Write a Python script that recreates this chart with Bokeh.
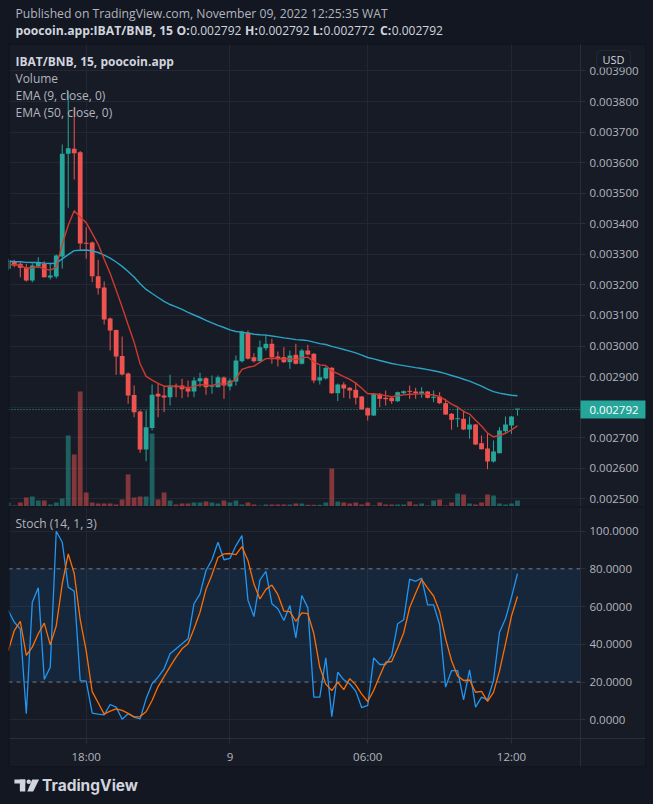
from bokeh.plotting import figure
from bokeh.layouts import column
from bokeh.models import (Range1d, FixedTicker, NumeralTickFormatter, Span, BoxAnnotation,
                          LinearAxis)
from bokeh.core.properties import value
from bokeh.embed import file_html
from bokeh.resources import INLINE

# ---------------- data (15-minute bars, slot 0 = 18:00) ----------------
bars = list(range(-13, 73))
time_ticks = [0, 24, 47, 71]
time_labels = ["18:00", "9", "06:00", "12:00"]
price_ticks = [0.0025, 0.0026, 0.0027, 0.0028, 0.0029, 0.0030, 0.0031, 0.0032,
               0.0033, 0.0034, 0.0035, 0.0036, 0.0037, 0.0038, 0.0039]
stoch_ticks = [0, 20, 40, 60, 80, 100]
last_price = 0.002792

open_ = [0.0032526, 0.0032765, 0.0032690, 0.0032579, 0.0032144, 0.0032602, 0.0032690, 0.0032242, 0.0032274, 0.0032929, 0.0036290, 0.0036453, 0.0036342,
         0.0033364, 0.0033387, 0.0032284, 0.0031915, 0.0030900, 0.0030524, 0.0029673, 0.0029100, 0.0028397, 0.0027857, 0.0026613, 0.0027317, 0.0028436,
         0.0028380, 0.0028325, 0.0028706, 0.0028706, 0.0028619, 0.0028511, 0.0028848, 0.0028947, 0.0028665, 0.0028652, 0.0028969, 0.0028675, 0.0028839,
         0.0029503, 0.0030442, 0.0029634, 0.0029503, 0.0029928, 0.0030072, 0.0029657, 0.0029634, 0.0029470,
         0.0029712, 0.0029418, 0.0029853, 0.0029745, 0.0028871, 0.0028937, 0.0029287, 0.0028456, 0.0028740, 0.0028632, 0.0028567, 0.0028348, 0.0027965,
         0.0027726, 0.0028436, 0.0028305, 0.0028305, 0.0028194, 0.0028456, 0.0028521, 0.0028511, 0.0028456, 0.0028511, 0.0028305, 0.0028348, 0.0028128,
         0.0027782, 0.0027605, 0.0027618, 0.0027268, 0.0027431, 0.0026820, 0.0026646, 0.0026221, 0.0026492, 0.0027212, 0.0027399, 0.0027920]
high = [0.0032863, 0.0032821, 0.0032733, 0.0032690, 0.0032710, 0.0032906, 0.0032775, 0.0032690, 0.0032994, 0.0036594, 0.0038338, 0.0037795, 0.0036381,
        0.0033888, 0.0033420, 0.0032821, 0.0032111, 0.0030933, 0.0030540, 0.0030311, 0.0029133, 0.0028706, 0.0027890, 0.0027890, 0.0028740, 0.0028763,
        0.0028706, 0.0029058, 0.0028773, 0.0028927, 0.0028871, 0.0028979, 0.0029123, 0.0028979, 0.0029035, 0.0029035, 0.0029002, 0.0028937, 0.0029689,
        0.0030507, 0.0030507, 0.0029765, 0.0030180, 0.0030377, 0.0030236, 0.0029820, 0.0029961, 0.0029853,
        0.0030072, 0.0029909, 0.0030040, 0.0029771, 0.0029362, 0.0029329, 0.0029313, 0.0028773, 0.0028816, 0.0028659, 0.0028816, 0.0028364, 0.0027988,
        0.0028462, 0.0028462, 0.0028544, 0.0028331, 0.0028511, 0.0028544, 0.0028706, 0.0028632, 0.0028652, 0.0028528, 0.0028544, 0.0028488, 0.0028272,
        0.0027808, 0.0027998, 0.0027890, 0.0027693, 0.0027448, 0.0027072, 0.0027147, 0.0026908, 0.0027343, 0.0027693, 0.0027709, 0.0027920]
low = [0.0032471, 0.0032579, 0.0032251, 0.0032111, 0.0032088, 0.0032546, 0.0032242, 0.0032176, 0.0032209, 0.0032536, 0.0034523, 0.0035448, 0.0033125,
       0.0032854, 0.0032088, 0.0031685, 0.0030704, 0.0029853, 0.0029058, 0.0029035, 0.0028108, 0.0027670, 0.0026505, 0.0026231, 0.0027235, 0.0027670,
       0.0027834, 0.0028053, 0.0028325, 0.0028292, 0.0028325, 0.0028325, 0.0028652, 0.0028403, 0.0028436, 0.0028642, 0.0028272, 0.0028544, 0.0028706,
       0.0029460, 0.0029558, 0.0029460, 0.0029493, 0.0029853, 0.0029418, 0.0029329, 0.0029444, 0.0029254,
       0.0029395, 0.0029395, 0.0029689, 0.0028783, 0.0028740, 0.0028904, 0.0028430, 0.0028194, 0.0028305, 0.0028272, 0.0028086, 0.0027906, 0.0027562,
       0.0027710, 0.0027998, 0.0028053, 0.0028108, 0.0028168, 0.0028430, 0.0028272, 0.0028272, 0.0028305, 0.0028282, 0.0028161, 0.0028102, 0.0027742,
       0.0027258, 0.0027343, 0.0027251, 0.0026963, 0.0026761, 0.0026613, 0.0025969, 0.0026188, 0.0026483, 0.0027127, 0.0027127, 0.0027720]
close = [0.0032798, 0.0032634, 0.0032559, 0.0032144, 0.0032634, 0.0032723, 0.0032251, 0.0032308, 0.0032962, 0.0036290, 0.0036473, 0.0036310, 0.0033354,
         0.0033345, 0.0032284, 0.0031892, 0.0030867, 0.0030507, 0.0029657, 0.0029068, 0.0028380, 0.0027834, 0.0026613, 0.0027343, 0.0028403, 0.0028348,
         0.0028315, 0.0028706, 0.0028652, 0.0028587, 0.0028511, 0.0028871, 0.0028947, 0.0028652, 0.0028685, 0.0028979, 0.0028706, 0.0028871, 0.0029526,
         0.0030465, 0.0029581, 0.0029503, 0.0029961, 0.0030072, 0.0029634, 0.0029568, 0.0029470, 0.0029689,
         0.0029418, 0.0029853, 0.0029722, 0.0028871, 0.0028979, 0.0029287, 0.0028456, 0.0028740, 0.0028610, 0.0028544, 0.0028305, 0.0027932, 0.0027726,
         0.0028436, 0.0028272, 0.0028259, 0.0028194, 0.0028488, 0.0028521, 0.0028501, 0.0028456, 0.0028511, 0.0028305, 0.0028315, 0.0028128, 0.0027759,
         0.0027585, 0.0027618, 0.0027268, 0.0027431, 0.0026777, 0.0026623, 0.0026221, 0.0026548, 0.0027235, 0.0027431, 0.0027693, 0.0027920]
volume = [4, 1, 4, 9, 10, 6, 6, 2, 4, 8, 71, 52, 115,
          14, 4, 3, 3, 3, 2, 7, 32, 9, 10, 10, 73, 7,
          14, 6, 2, 3, 3, 4, 4, 5, 4, 3, 6, 4, 6,
          2, 4, 2, 1, 2, 2, 2, 2, 2,
          3, 3, 1.7, 1.7, 1.7, 4, 38, 5, 4, 3, 4, 2, 4,
          1, 4, 2, 2, 2, 2, 5, 2, 3, 1, 6, 7, 1,
          4, 13, 12, 3, 2, 4, 12, 11, 3, 2, 3, 6]
ema9 = [0.0032667, 0.0032661, 0.0032641, 0.0032543, 0.0032562, 0.0032595, 0.0032526, 0.0032484, 0.0032579, 0.0033322, 0.0033953, 0.0034424, 0.0034212,
        0.0034038, 0.0033688, 0.0033328, 0.0032837, 0.0032373, 0.0031829, 0.0031276, 0.0030697, 0.0030125, 0.0029421, 0.0029005, 0.0028884, 0.0028776,
        0.0028685, 0.0028688, 0.0028681, 0.0028662, 0.0028632, 0.0028681, 0.0028734, 0.0028717, 0.0028711, 0.0028763, 0.0028754, 0.0028776, 0.0028927,
        0.0029234, 0.0029303, 0.0029342, 0.0029467, 0.0029588, 0.0029598, 0.0029591, 0.0029568, 0.0029591,
        0.0029555, 0.0029614, 0.0029637, 0.0029483, 0.0029382, 0.0029362, 0.0029182, 0.0029094, 0.0028996, 0.0028907, 0.0028786, 0.0028616, 0.0028439,
        0.0028439, 0.0028407, 0.0028377, 0.0028341, 0.0028371, 0.0028400, 0.0028420, 0.0028426, 0.0028443, 0.0028416, 0.0028397, 0.0028344, 0.0028227,
        0.0028099, 0.0028004, 0.0027857, 0.0027772, 0.0027572, 0.0027382, 0.0027150, 0.0027029, 0.0027072, 0.0027144, 0.0027255, 0.0027389]
ema50 = [0.0032772, 0.0032765, 0.0032759, 0.0032736, 0.0032732, 0.0032732, 0.0032713, 0.0032700, 0.0032710, 0.0032850, 0.0032991, 0.0033122, 0.0033132,
         0.0033142, 0.0033109, 0.0033060, 0.0032975, 0.0032877, 0.0032749, 0.0032605, 0.0032438, 0.0032258, 0.0032036, 0.0031852, 0.0031718, 0.0031587,
         0.0031460, 0.0031358, 0.0031283, 0.0031195, 0.0031103, 0.0031015, 0.0030933, 0.0030841, 0.0030759, 0.0030678, 0.0030606, 0.0030530, 0.0030475,
         0.0030455, 0.0030422, 0.0030386, 0.0030370, 0.0030357, 0.0030327, 0.0030298, 0.0030265, 0.0030242,
         0.0030210, 0.0030197, 0.0030177, 0.0030125, 0.0030079, 0.0030049, 0.0029987, 0.0029938, 0.0029886, 0.0029833, 0.0029774, 0.0029702, 0.0029624,
         0.0029578, 0.0029526, 0.0029477, 0.0029428, 0.0029392, 0.0029359, 0.0029326, 0.0029293, 0.0029264, 0.0029228, 0.0029192, 0.0029149, 0.0029094,
         0.0029035, 0.0028979, 0.0028911, 0.0028852, 0.0028770, 0.0028685, 0.0028587, 0.0028508, 0.0028459, 0.0028420, 0.0028390, 0.0028374]
stoch_k = [57.9, 51.7, 48.2, 3.2, 62.3, 69.9, 21.4, 27.9, 99.9, 94.1, 70.3, 68.1, 20.8,
           20.5, 3.5, 3.0, 2.6, 8.1, 6.7, 0.3, 3.2, 1.4, 0.5, 11.1, 19.1, 22.6,
           27.0, 35.0, 37.6, 40.3, 42.9, 61.5, 66.7, 79.1, 84.8, 94.1, 84.8, 85.5, 92.3,
           97.6, 63.4, 54.7, 74.0, 78.7, 61.5, 58.8, 52.6, 60.6,
           43.4, 65.9, 59.3, 12.0, 12.0, 32.8, 1.7, 25.2, 21.2, 19.1, 15.2, 6.4, 7.6,
           32.8, 29.3, 29.3, 34.1, 50.9, 53.0, 74.5, 73.4, 75.1, 60.9, 60.9, 50.5, 17.3,
           26.1, 26.1, 10.6, 26.5, 6.7, 12.0, 10.6, 20.8, 46.4, 53.5, 65.0, 77.4]
stoch_d = [36.7, 47.3, 52.2, 34.1, 38.5, 45.6, 51.2, 39.7, 49.7, 72.0, 87.9, 77.5, 53.1,
           36.5, 14.9, 9.0, 3.0, 4.6, 5.8, 5.0, 3.4, 1.6, 1.7, 4.3, 10.2, 17.6,
           22.9, 28.2, 33.2, 37.6, 40.3, 48.2, 57.0, 69.1, 76.9, 86.0, 87.9, 88.1, 87.5,
           91.8, 84.4, 71.9, 64.0, 69.1, 71.4, 66.3, 57.6, 57.3,
           52.2, 56.6, 56.2, 45.7, 27.8, 18.9, 15.5, 19.9, 16.0, 21.8, 18.5, 13.6, 9.7,
           15.6, 23.2, 30.5, 30.9, 38.1, 46.0, 59.5, 67.0, 74.3, 69.8, 65.6, 57.4, 42.9,
           31.3, 23.2, 20.9, 21.1, 14.6, 15.1, 9.8, 14.5, 25.9, 40.2, 55.0, 65.3]

# ---------------- styles ----------------
BG_OUT = "#131722"
BG = "#171b26"
GRID = "#232733"
SEP = "#2a2e39"
EDGE = "#0c0e15"
TXT = "#b2b5be"
TXT_HI = "#d1d4dc"
UP = "#26a69a"
DOWN = "#ef5350"
FONT = "Open Sans"

XR = Range1d(-12.9716, 93.5392)      # frame spans page x 8..646
AX_X = 82.5209                       # price / stoch axis line position (page x 580)
P_LO, P_HI = 0.0024748, 0.0039899    # main pane: page y 506..43
S_LO, S_HI = -25.27, 112.48          # stoch pane: page y 767..507
S_AXIS = -9.91                       # time axis line (page y 738)


def base(width, height, **kw):
    return figure(width=width, height=height, toolbar_location=None, output_backend="svg",
                  min_border=0, outline_line_color=None, **kw)


def style_axis(ax):
    ax.axis_line_color = SEP
    ax.major_tick_line_color = SEP
    ax.minor_tick_line_color = None
    ax.major_tick_out = 5
    ax.major_tick_in = 0
    ax.major_label_standoff = 4
    ax.major_label_text_color = TXT
    ax.major_label_text_font = FONT
    ax.major_label_text_font_size = "11.5px"


def edges(p, top=None, bottom=None):
    p.add_layout(Span(location=8.5, dimension="height", x_range_name="px",
                      line_color=EDGE, level="overlay"))
    p.add_layout(Span(location=645.5, dimension="height", x_range_name="px",
                      line_color=EDGE, level="overlay"))
    for loc in (top, bottom):
        if loc is not None:
            p.add_layout(Span(location=loc, dimension="width", y_range_name="py",
                              line_color=EDGE, level="overlay"))


# ---------------- header ----------------
head = base(653, 43, x_range=Range1d(0, 653), y_range=Range1d(43, 0),
            x_axis_location=None, y_axis_location=None,
            background_fill_color=BG_OUT, border_fill_color=BG_OUT)
head.grid.visible = False
head.text(x=[7], y=[13], text=["Published on TradingView.com, November 09, 2022 12:25:35 WAT"],
          text_font=value(FONT), text_font_size="12.2px", text_color=TXT, text_baseline="middle")
head.text(x=[7], y=[30], text=["poocoin.app:IBAT/BNB, 15"],
          text_font=value(FONT), text_font_size="12.2px", text_font_style="bold",
          text_color=TXT_HI, text_baseline="middle")
head.text(x=[183.5, 252.5, 318.5, 387.5], y=[30] * 4, text=["O:", "H:", "L:", "C:"],
          text_font=value(FONT), text_font_size="12.2px", text_font_style="bold",
          text_color=TXT_HI, text_baseline="middle", text_align="right")
head.text(x=[184, 253, 319, 388], y=[30] * 4,
          text=["0.002792", "0.002792", "0.002772", "0.002792"],
          text_font=value(FONT), text_font_size="12px", text_color=TXT_HI, text_baseline="middle")

# ---------------- main price pane ----------------
main = base(646, 463, x_range=XR, y_range=Range1d(P_LO, P_HI),
            x_axis_location=None, y_axis_location=None, min_border_left=8,
            background_fill_color=BG, border_fill_color=BG_OUT)
main.extra_y_ranges = {"vol": Range1d(0, 463), "py": Range1d(506, 43)}
main.extra_x_ranges = {"px": Range1d(8, 646)}
main.ygrid.ticker = FixedTicker(ticks=price_ticks)
main.xgrid.ticker = FixedTicker(ticks=time_ticks)
main.grid.grid_line_color = GRID

main.add_layout(Span(location=last_price, dimension="width", line_color=UP,
                     line_dash="1 2", line_width=1, level="underlay"))
main.add_layout(BoxAnnotation(left=AX_X, fill_color=BG, fill_alpha=1.0, line_color=None,
                              level="underlay"))

pax = LinearAxis(fixed_location=AX_X, ticker=FixedTicker(ticks=price_ticks),
                 formatter=NumeralTickFormatter(format="0.000000"))
pax.major_label_overrides = {0.0028: ""}
style_axis(pax)
main.add_layout(pax, "right")

colors = [UP if c >= o else DOWN for o, c in zip(open_, close)]
px_price = (P_HI - P_LO) / 463.0
body_bot = [min(o, c) for o, c in zip(open_, close)]
body_top = [max(max(o, c), b + px_price) for o, c, b in zip(open_, close, body_bot)]

main.vbar(x=bars, width=0.8, bottom=0, top=volume, y_range_name="vol",
          fill_color=colors, fill_alpha=0.5, line_color=None)
main.segment(x0=bars, y0=low, x1=bars, y1=high, line_color=colors, line_width=1)
main.vbar(x=bars, width=0.8, bottom=body_bot, top=body_top, fill_color=colors, line_color=None)
main.line(bars, ema50, line_color="#2aa3c6", line_width=1.4)
main.line(bars, ema9, line_color="#cf3a2f", line_width=1.4)

main.text(x=[15], y=[61], text=["IBAT/BNB, 15, poocoin.app"], x_range_name="px", y_range_name="py",
          text_font=value(FONT), text_font_size="12px", text_font_style="bold",
          text_color=TXT_HI, text_baseline="middle")
main.text(x=[15, 15, 15], y=[78, 95, 112], text=["Volume", "EMA (9, close, 0)", "EMA (50, close, 0)"],
          x_range_name="px", y_range_name="py", text_font=value(FONT), text_font_size="12px",
          text_color=TXT, text_baseline="middle")

# last-price tag on the price scale
tag = main.quad(left=[580], right=[646], top=[last_price + 9 * px_price],
                bottom=[last_price - 9 * px_price], x_range_name="px",
                fill_color=UP, line_color=None)
tag.level = "overlay"
tag_txt = main.text(x=[589], y=[last_price], text=["0.002792"], x_range_name="px",
                    text_font=value(FONT), text_font_size="11.5px", text_color="#ffffff",
                    text_baseline="middle")
tag_txt.level = "overlay"

# currency badge (box painted at annotation level, its text afterwards at overlay level)
main.add_layout(BoxAnnotation(left=596, right=630, top=50, bottom=67, x_range_name="px",
                              y_range_name="py", fill_color=BG, fill_alpha=1.0,
                              line_color="#434651", line_width=1, border_radius=4,
                              level="annotation"))
usd = main.text(x=[613], y=[58.5], text=["USD"], x_range_name="px", y_range_name="py",
                text_font=value(FONT), text_font_size="11px", text_color=TXT_HI,
                text_align="center", text_baseline="middle")
usd.level = "overlay"
edges(main, top=43.5)

# ---------------- separator ----------------
sep = base(646, 1, x_range=Range1d(0, 1), y_range=Range1d(0, 1), x_axis_location=None,
           y_axis_location=None, min_border_left=8,
           background_fill_color=SEP, border_fill_color=BG_OUT)
sep.grid.visible = False

# ---------------- stochastic pane ----------------
st = base(646, 260, x_range=XR, y_range=Range1d(S_LO, S_HI),
          x_axis_location=None, y_axis_location=None, min_border_left=8,
          background_fill_color=BG, border_fill_color=BG_OUT)
st.extra_y_ranges = {"py": Range1d(767, 507)}
st.extra_x_ranges = {"px": Range1d(8, 646)}
st.ygrid.ticker = FixedTicker(ticks=[0, 40, 60, 100])
st.xgrid.ticker = FixedTicker(ticks=time_ticks)
st.grid.grid_line_color = GRID

st.add_layout(BoxAnnotation(bottom=20, top=80, right=AX_X, fill_color="#2196f3", fill_alpha=0.1,
                            line_color=None, level="underlay"))
for lvl in (20, 80):
    st.add_layout(Span(location=lvl, dimension="width", line_color="#787b86",
                       line_dash="4 4", line_width=1, level="underlay"))
st.add_layout(BoxAnnotation(left=AX_X, fill_color=BG, fill_alpha=1.0, line_color=None,
                            level="underlay"))
st.add_layout(BoxAnnotation(top=S_AXIS, fill_color=BG, fill_alpha=1.0, line_color=None,
                            level="underlay"))

say = LinearAxis(fixed_location=AX_X, ticker=FixedTicker(ticks=stoch_ticks),
                 formatter=NumeralTickFormatter(format="0.0000"))
style_axis(say)
st.add_layout(say, "right")
sax = LinearAxis(fixed_location=S_AXIS, ticker=FixedTicker(ticks=time_ticks))
sax.major_label_overrides = {t: l for t, l in zip(time_ticks, time_labels)}
style_axis(sax)
sax.major_label_standoff = 5
st.add_layout(sax, "below")

st.line(bars, stoch_k, line_color="#2196f3", line_width=1.3)
st.line(bars, stoch_d, line_color="#ff6d00", line_width=1.3)
st.text(x=[15], y=[523], text=["Stoch (14, 1, 3)"], x_range_name="px", y_range_name="py",
        text_font=value(FONT), text_font_size="12px", text_color=TXT, text_baseline="middle")
edges(st, bottom=766.5)

# ---------------- footer ----------------
foot = base(653, 37, x_range=Range1d(0, 653), y_range=Range1d(804, 767),
            x_axis_location=None, y_axis_location=None,
            background_fill_color=BG_OUT, border_fill_color=BG_OUT)
foot.grid.visible = False
foot.quad(left=[6, 11.5], right=[17, 17], top=[779, 779], bottom=[783, 791],
          fill_color=TXT_HI, line_color=None)
foot.scatter(x=[20.5], y=[781.2], size=4.5, marker="circle", fill_color=TXT_HI, line_color=None)
foot.patch(x=[24, 31, 25, 19], y=[779, 779, 791, 791], fill_color=TXT_HI, line_color=None)
foot.text(x=[34], y=[785], text=["TradingView"], text_font=value("Inter"), text_font_size="15.5px",
          text_font_style="bold", text_color=TXT_HI, text_baseline="middle")

layout = column(head, main, sep, st, foot, spacing=0)
html = file_html(layout, INLINE, title="IBAT/BNB")
html = html.replace("<head>", "<head><style>html,body{background:#131722;}</style>", 1)
open("out.html", "w").write(html)
